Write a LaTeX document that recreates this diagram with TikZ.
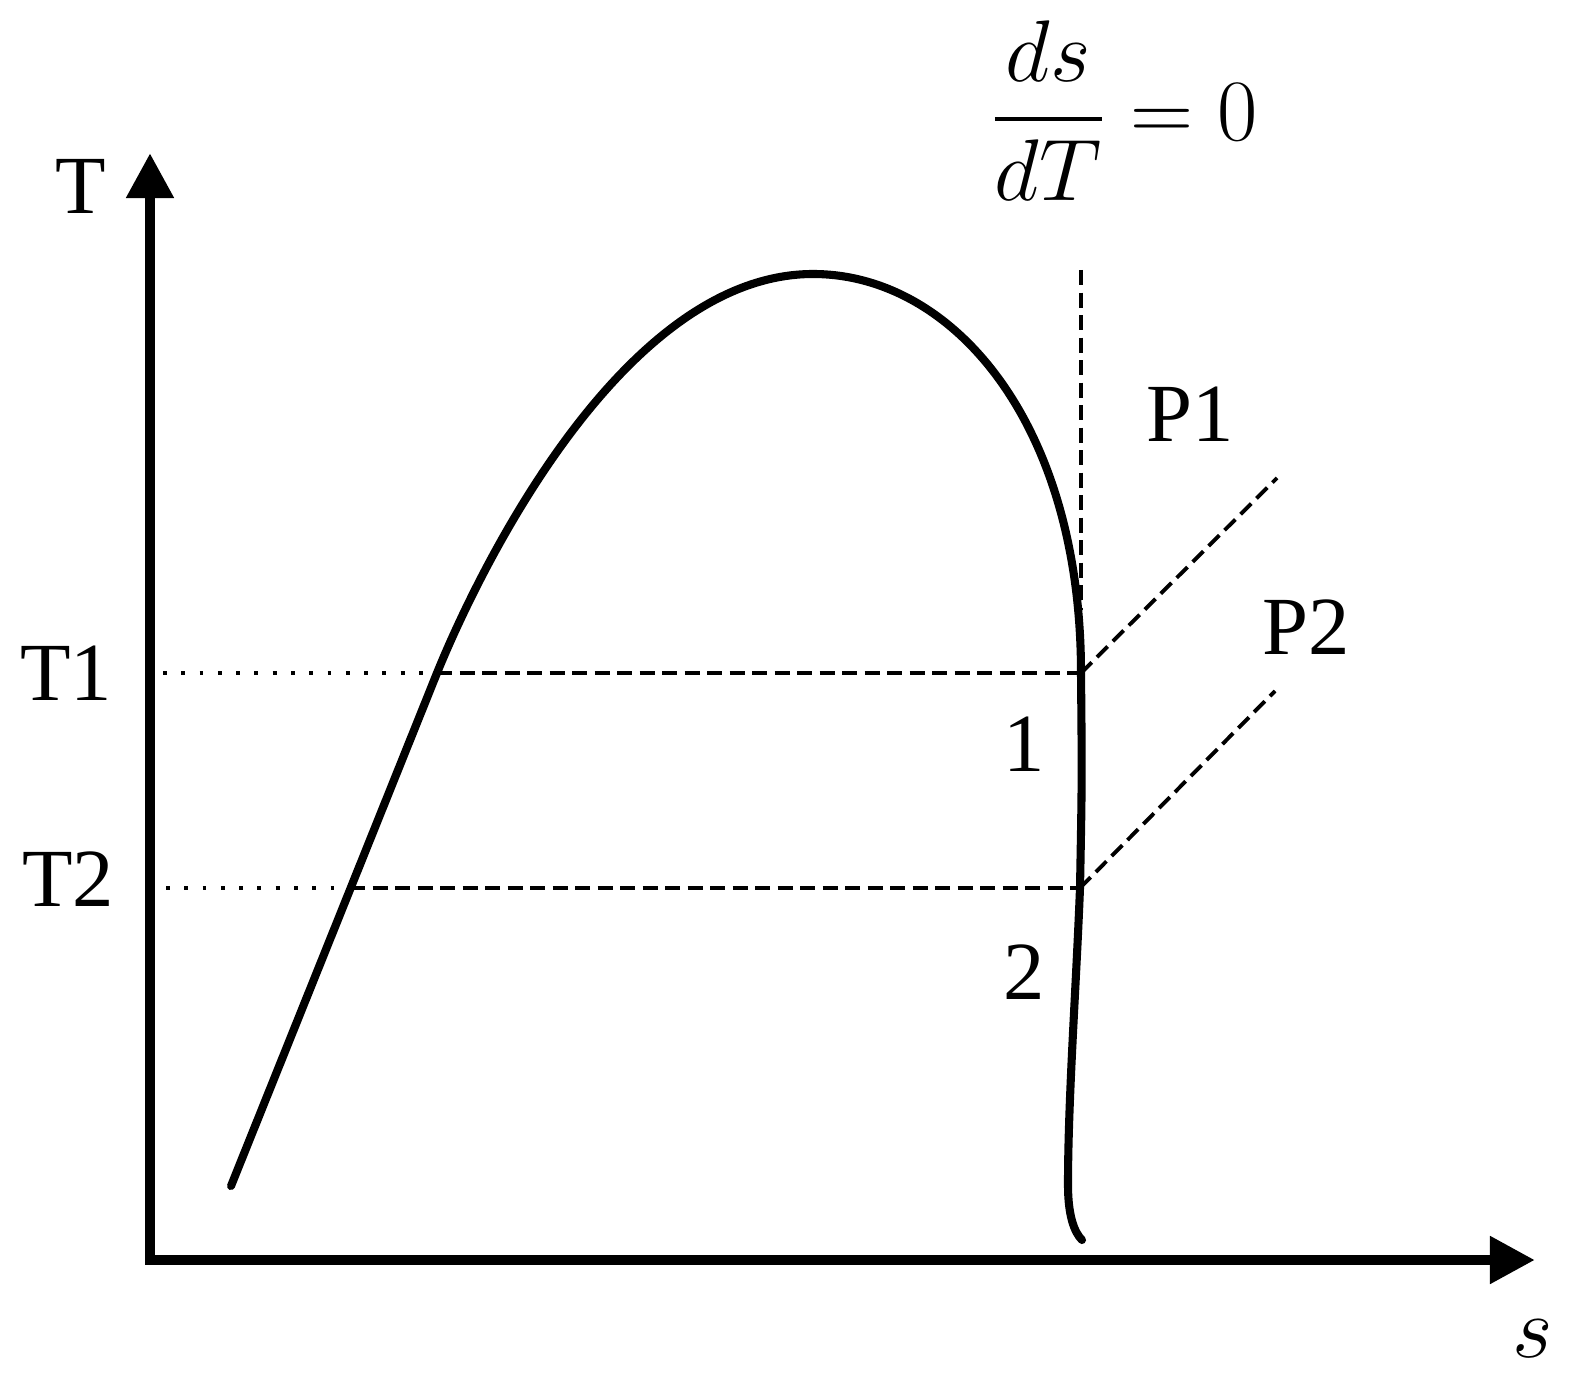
\documentclass[tikz,border=0pt]{standalone}
\usepackage{amsmath}
\usepackage{fontspec}
\setmainfont{Liberation Serif}
\usetikzlibrary{arrows.meta}
\usetikzlibrary{positioning}

\tikzset{
  axisline/.style={line width=3.1pt,
    {Triangle[length=0.45cm,width=0.45cm]}-{Triangle[length=0.45cm,width=0.45cm]}},
  domeline/.style={line width=2.3pt,line cap=round,line join=round},
  dashline/.style={line width=1.1pt,dash pattern=on 4.3pt off 2.1pt},
  dotline/.style={line width=1.2pt,dash pattern=on 1.1pt off 4.1pt},
}

\begin{document}
\begin{tikzpicture}[x=0.01cm,y=-0.01cm]
\useasboundingbox (0,0) rectangle (1587,1400);

% axes
\coordinate (O) at (150,1260);
\coordinate (Ttip) at (150,153);
\coordinate (Stip) at (1535,1260);
\draw[axisline] (Ttip) -- (O) -- (Stip);

% points on the dome and line ends
\coordinate (B0) at (231,1186);
\coordinate (L1) at (437,673);
\coordinate (L2) at (350,888);
\coordinate (top) at (813,274);
\coordinate (R1) at (1081,673);
\coordinate (R2) at (1080,888);
\coordinate (B1) at (1082,1240);
\coordinate (A1) at (163,673);
\coordinate (A2) at (166,888);
\coordinate (P1end) at (1277,478);
\coordinate (P2end) at (1275,691);
\coordinate (Vtop) at (1081,270);
\coordinate (Vbot) at (1081,610);

% saturation dome
\draw[domeline] (B0) -- (L1)
  .. controls (478,572) and (622,274) .. (top)
  .. controls (953,274) and (1081,423) .. (R1)
  .. controls (1082,780) .. (R2)
  .. controls (1076,990) and (1068,1100) .. (1068,1185)
  .. controls (1068,1215) and (1074,1232) .. (B1);

\begin{scope}[every edge/.style={draw,dashline}]
    \path (L1) edge (R1);
    \path (L2) edge (R2);
    \path (R1) edge (P1end);
    \path (R2) edge (P2end);
    \path (Vtop) edge (Vbot);
\end{scope}
\draw[dotline] (A1) -- (L1);
\draw[dotline] (A2) -- (L2);

\begin{scope}[every node/.style={inner sep=0pt,font=\fontsize{23.5}{28}\selectfont}]
    \node (Tlab) at (81,186) {T};
    \node (slab) at (1533,1339) {$s$};
    \node (T1lab) at (66,673) {T1};
    \node (T2lab) at (68,879) {T2};
    \node (P1lab) at (1190,414) {P1};
    \node (P2lab) at (1306,627) {P2};
    \node (n1) at (1024,744) {1};
    \node (n2) at (1024,972) {2};
    \node[anchor=west] (dsdT) at (990,111) {$\dfrac{ds}{dT}=0$};
\end{scope}
\end{tikzpicture}
\end{document}
